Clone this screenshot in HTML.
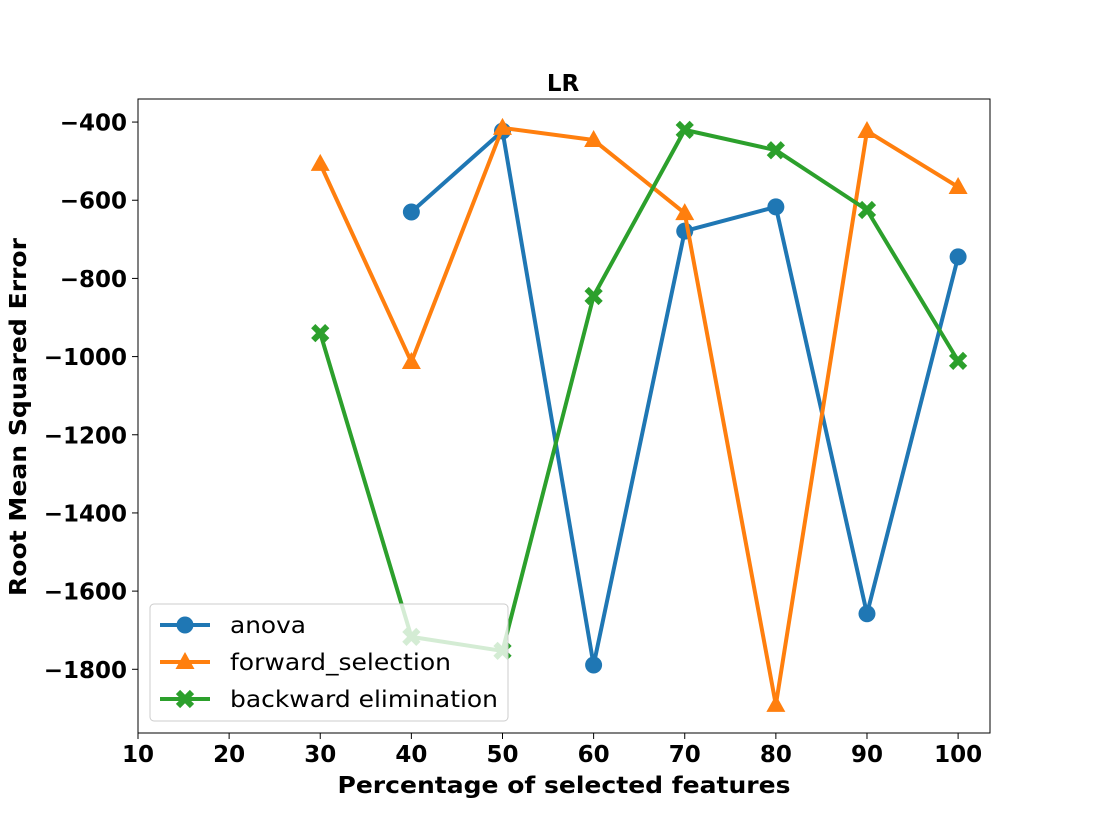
<!DOCTYPE html>
<html><head><meta charset="utf-8"><style>
body{margin:0;background:#fff;}
svg{display:block;font-family:"DejaVu Sans","Liberation Sans",sans-serif;}
</style></head><body>
<svg id="chart" width="1100" height="825" xmlns="http://www.w3.org/2000/svg">
<text x="563" y="91" text-anchor="middle" font-size="23" font-weight="bold">LR</text>
<text x="564" y="793" text-anchor="middle" font-size="23" font-weight="bold" textLength="453" lengthAdjust="spacingAndGlyphs">Percentage of selected features</text>
<text transform="translate(26,417) rotate(-90)" text-anchor="middle" font-size="23" font-weight="bold" textLength="358" lengthAdjust="spacingAndGlyphs">Root Mean Squared Error</text>
<g id="grid"></g><g id="series"></g><g id="legend"></g>
</svg>
<script>
const xTicks=[10,20,30,40,50,60,70,80,90,100];
const yTicks=[-400,-600,-800,-1000,-1200,-1400,-1600,-1800];
const xs=[30,40,50,60,70,80,90,100];
const anova=[null,-630,-423,-1789,-679,-617,-1658,-745];
const forwardSel=[-507,-1014,-415,-446,-633,-1891,-423,-566];
const backwardElim=[-940,-1717,-1753,-845,-420,-472,-625,-1011];
const names=['anova','forward_selection','backward elimination'];
const legendW=[76,221,268];
const colors=['#1f77b4','#ff7f0e','#2ca02c'];
const L=138,R=990,T=99,B=733,X0=10,X1=103.5,Y0=-1963,Y1=-341;
const sx=v=>L+(v-X0)/(X1-X0)*(R-L);
const sy=v=>B-(v-Y0)/(Y1-Y0)*(B-T);
const NS='http://www.w3.org/2000/svg';
function mk(t,a,p){const e=document.createElementNS(NS,t);for(const k in a)e.setAttribute(k,a[k]);p.appendChild(e);return e;}
const g=document.getElementById('grid');
xTicks.forEach(v=>{const x=sx(v);
 const l=mk('line',{x1:x,x2:x,y1:B,y2:B+6,stroke:'#000','stroke-width':1},g);
 
 
 const t=mk('text',{x:x,y:B+29,'text-anchor':'middle','font-size':23,'font-weight':'bold'},g);t.textContent=v;
 
 });
yTicks.forEach(v=>{const y=sy(v);
 const l=mk('line',{x1:L-6,x2:L,y1:y,y2:y,stroke:'#000','stroke-width':1},g);
 
 
 const t=mk('text',{x:L-11,y:y+8.5,'text-anchor':'end','font-size':23,'font-weight':'bold'},g);t.textContent='\u2212'+Math.abs(v);
 
 });
const frame=mk('rect',{x:L,y:T,width:R-L,height:B-T,fill:'none',stroke:'#000','stroke-width':1},g);


function marker(type,x,y,c,p){
 if(type===0)return mk('circle',{cx:x,cy:y,r:8.5,fill:c},p);
 if(type===1)return mk('polygon',{points:`${x},${y-10} ${x-9.5},${y+7} ${x+9.5},${y+7}`,fill:c},p);
 return mk('path',{d:`M${x-7},${y-7}L${x+7},${y+7}M${x-7},${y+7}L${x+7},${y-7}`,stroke:c,'stroke-width':6},p);
}
const sg=document.getElementById('series');
[anova,forwardSel,backwardElim].forEach((arr,i)=>{
 const grp=mk('g',{},sg);
 
 
 const pts=[];xs.forEach((x,j)=>{if(arr[j]!==null)pts.push([sx(x),sy(arr[j])]);});
 const pl=mk('polyline',{points:pts.map(p=>p.join(',')).join(' '),fill:'none',stroke:colors[i],'stroke-width':4,'stroke-linejoin':'round'},grp);
 
 
 pts.forEach(p=>{const m=marker(i,p[0],p[1],colors[i],grp);
  
  });
});
const lg=document.getElementById('legend');
const box=mk('rect',{x:150,y:604,width:358,height:117,rx:4,fill:'#fff','fill-opacity':0.8,stroke:'#ccc','stroke-width':1},lg);


names.forEach((n,i)=>{const y=625+i*37;
 const e=mk('g',{},lg);
 
 
 mk('line',{x1:160,x2:210,y1:y,y2:y,stroke:colors[i],'stroke-width':4},e);
 marker(i,185,y,colors[i],e);
 const t=mk('text',{x:230,y:y+8,'font-size':23,textLength:legendW[i],lengthAdjust:'spacingAndGlyphs'},e);t.textContent=n;});
</script>
</body></html>
